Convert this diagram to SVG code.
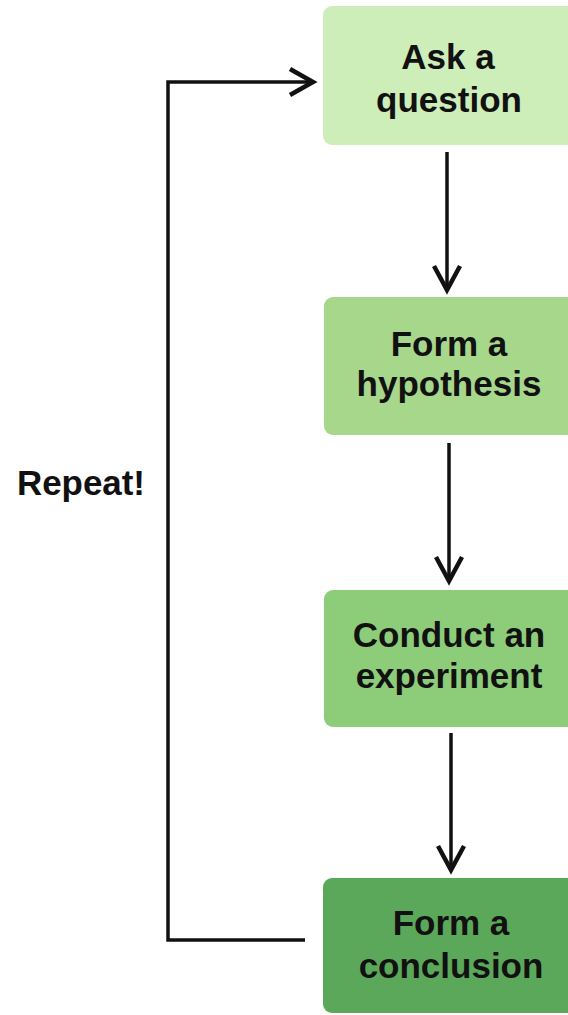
<svg xmlns="http://www.w3.org/2000/svg" width="568" height="1015" viewBox="0 0 568 1015">
<style>
.lbl{font-family:"Liberation Sans",Arial,sans-serif;font-weight:bold;font-size:35px;fill:#111;text-anchor:middle}
.con{fill:none;stroke:#111;stroke-width:3.5}
.head{fill:none;stroke:#111;stroke-width:4.5;stroke-linejoin:miter;stroke-linecap:butt}
</style>
<rect width="568" height="1015" fill="#fff"/>
<g id="connectors">
<line class="con" x1="447" y1="152" x2="447" y2="290"/>
<polyline class="head" points="434,266 447,290 460,266"/>
<line class="con" x1="449" y1="443" x2="449" y2="581"/>
<polyline class="head" points="436,557 449,581 462,557"/>
<line class="con" x1="451" y1="733" x2="451" y2="870"/>
<polyline class="head" points="438,846 451,870 464,846"/>
<polyline class="con" points="305,940 168,940 168,82 313,82"/>
<polyline class="head" points="290,69 313,82 290,95"/>
</g>
<g id="repeat"><text class="lbl" style="text-anchor:start;font-size:34.5px" x="17" y="495" textLength="128" lengthAdjust="spacingAndGlyphs">Repeat!</text></g>
<g id="ask"><rect x="323" y="6" width="256" height="139" rx="9" fill="#cdeeb9"/>
<text class="lbl" x="448" y="69">Ask a</text><text class="lbl" x="449" y="112">question</text></g>
<g id="hypothesis"><rect x="324" y="297" width="256" height="138" rx="9" fill="#a7d78b"/>
<text class="lbl" x="449" y="356">Form a</text><text class="lbl" x="449" y="396">hypothesis</text></g>
<g id="experiment"><rect x="324" y="590" width="256" height="137" rx="9" fill="#8dcc79"/>
<text class="lbl" x="449" y="647">Conduct an</text><text class="lbl" x="449" y="688">experiment</text></g>
<g id="conclusion"><rect x="323" y="878" width="256" height="135" rx="9" fill="#5ca85a"/>
<text class="lbl" x="451" y="935">Form a</text><text class="lbl" x="451" y="978">conclusion</text></g>
</svg>
